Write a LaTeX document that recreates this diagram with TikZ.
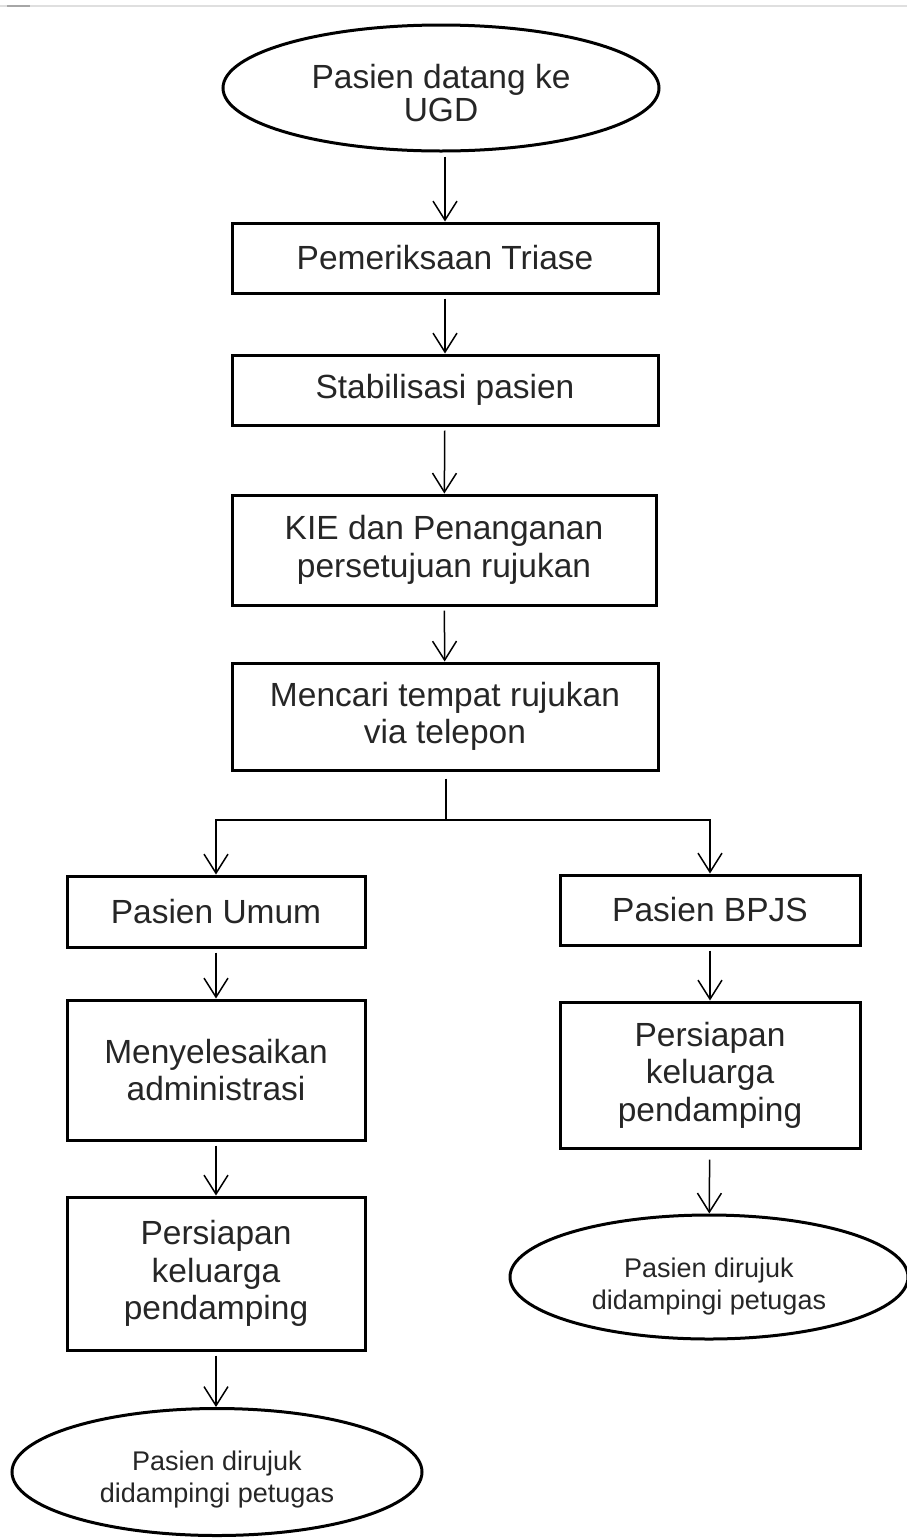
\documentclass[tikz,border=0pt]{standalone}
\usepackage{fontspec}
\setmainfont{Liberation Sans}
\usetikzlibrary{shapes.geometric,arrows.meta}
\begin{document}
\begin{tikzpicture}[x=1pt,y=-1pt,
  bigtext/.style={font=\fontsize{33.5}{37.5}\selectfont, align=center, text=black!85},
  smalltext/.style={font=\fontsize{27}{32}\selectfont, align=center, text=black!85},
  stepbox/.style={draw, line width=3pt, inner sep=0pt, bigtext},
  termo/.style={draw, ellipse, line width=3pt, inner sep=0pt},
  flow/.style={line width=1.5pt, -{Straight Barb[length=19pt,width=24pt]}, shorten <=4pt},
  plain/.style={line width=1.5pt}]
\useasboundingbox (0,0) rectangle (907,1540);
\draw[gray!25, line width=1.5pt] (0,6) -- (907,6);
\draw[gray!70, line width=1.5pt] (7,6) -- (30,6);

\node[termo, minimum width=436pt, minimum height=126pt] (start) at (441,88) {};
\node[bigtext, font=\fontsize{33.5}{33}\selectfont] at (441,93) {Pasien datang ke\\UGD};
\node[stepbox, minimum width=426pt, minimum height=70pt] (triase) at (445,258) {Pemeriksaan Triase};
\node[stepbox, minimum width=426pt, minimum height=70pt] (stabil) at (445,390) {Stabilisasi pasien};
\node[stepbox, minimum width=424pt, minimum height=110pt] (kie) at (444,550) {KIE dan Penanganan\\persetujuan rujukan};
\node[stepbox, minimum width=426pt, minimum height=107pt] (cari) at (445,716.5) {Mencari tempat rujukan\\via telepon};
\coordinate (split) at (446,820);

\node[stepbox, minimum width=298pt, minimum height=71pt] (umum) at (216,911.5) {Pasien Umum};
\node[stepbox, minimum width=298pt, minimum height=140pt] (admin) at (216,1070) {Menyelesaikan\\administrasi};
\node[stepbox, minimum width=298pt, minimum height=153pt] (kelL) at (216,1273.5) {Persiapan\\keluarga\\pendamping};
\node[termo, minimum width=410pt, minimum height=127pt] (endL) at (217,1472) {};
\node[smalltext] at (217,1479) {Pasien dirujuk\\didampingi petugas};

\node[stepbox, minimum width=300pt, minimum height=70pt] (bpjs) at (710,910) {Pasien BPJS};
\node[stepbox, minimum width=300pt, minimum height=146pt] (kelR) at (710,1075) {Persiapan\\keluarga\\pendamping};
\node[termo, minimum width=398pt, minimum height=124pt] (endR) at (709,1277) {};
\node[smalltext] at (709,1287) {Pasien dirujuk\\didampingi petugas};

\draw[flow] (start.south -| triase.north) -- (triase.north);
\draw[flow] (triase) -- (stabil);
\draw[flow] (stabil) -- (kie);
\draw[flow] (kie) -- (cari);
\draw[plain, shorten <=7pt] (cari.south -| split) -- (split);
\draw[line width=1.5pt, -{Straight Barb[length=19pt,width=24pt]}] (split) -| (umum.north);
\draw[line width=1.5pt, -{Straight Barb[length=19pt,width=24pt]}] (split) -| (bpjs.north);
\draw[flow] (umum) -- (admin);
\draw[flow] (admin) -- (kelL);
\draw[flow] (kelL.south) -- (kelL.south |- endL.north);
\draw[flow, shorten <=10pt] (kelR) -- (endR);
\draw[flow] (bpjs) -- (kelR);
\end{tikzpicture}
\end{document}
